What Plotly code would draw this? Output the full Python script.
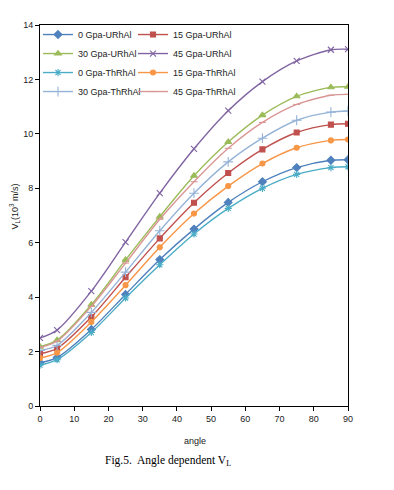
import plotly.graph_objects as go

angles = [0, 5, 15, 25, 35, 45, 55, 65, 75, 85, 90]

u0 = [1.59, 1.78, 2.81, 4.10, 5.38, 6.50, 7.48, 8.24, 8.76, 9.03, 9.05]
u15 = [1.92, 2.12, 3.27, 4.73, 6.16, 7.47, 8.56, 9.43, 10.05, 10.34, 10.37]
u30 = [2.18, 2.42, 3.72, 5.37, 6.96, 8.46, 9.70, 10.69, 11.38, 11.71, 11.73]
u45 = [2.50, 2.79, 4.22, 6.02, 7.82, 9.45, 10.85, 11.92, 12.68, 13.09, 13.11]
th0 = [1.50, 1.70, 2.70, 3.97, 5.19, 6.32, 7.26, 8.00, 8.51, 8.76, 8.79]
th15 = [1.76, 1.96, 3.09, 4.44, 5.83, 7.07, 8.08, 8.91, 9.49, 9.76, 9.79]
th30 = [2.04, 2.23, 3.44, 4.92, 6.44, 7.82, 8.97, 9.84, 10.50, 10.80, 10.84]
th45 = [2.15, 2.38, 3.66, 5.25, 6.86, 8.24, 9.47, 10.42, 11.08, 11.42, 11.45]

x_ticks = [0, 10, 20, 30, 40, 50, 60, 70, 80, 90]
y_ticks = [0, 2, 4, 6, 8, 10, 12, 14]

series = [
    ("0 Gpa-URhAl", u0, "#4F81BD", "diamond", 6, "legend"),
    ("15 Gpa-URhAl", u15, "#C0504D", "square", 5, "legend2"),
    ("30 Gpa-URhAl", u30, "#9BBB59", "triangle-up", 6, "legend"),
    ("45 Gpa-URhAl", u45, "#8064A2", "x-thin-open", 6, "legend2"),
    ("0 Gpa-ThRhAl", th0, "#4BACC6", "asterisk-open", 6, "legend"),
    ("15 Gpa-ThRhAl", th15, "#F79646", "circle", 5, "legend2"),
    ("30 Gpa-ThRhAl", th30, "#95B3D7", "cross-thin-open", 7, "legend"),
    ("45 Gpa-ThRhAl", th45, "#D99694", "line-ew-open", 5, "legend2"),
]

fig = go.Figure()
for name, vals, color, sym, size, leg in series:
    fig.add_trace(go.Scatter(
        x=angles, y=vals, name=name, mode="lines+markers",
        line=dict(color=color, width=1.4, shape="spline", smoothing=0.8),
        marker=dict(symbol=sym, size=size, color=color,
                    line=dict(color=color, width=1.1)),
        legend=leg,
    ))

# page body has an 8px margin; target plot area in window pixels: x 40..348, y 22..406
OFF = 8
W, H = 394 - 2 * OFF, 490 - 2 * OFF
L, T = 40 - OFF, 22 - OFF
pw, ph = 308, 384
R, B = W - L - pw, H - T - ph

def px_x(px):
    return (px - OFF - L) / pw

def px_y(py):
    return (T + ph - (py - OFF)) / ph

axis_font = dict(family="Liberation Sans, Arial, sans-serif", size=9, color="#222")
leg_font = dict(family="Liberation Sans, Arial, sans-serif", size=9, color="#222")

fig.update_layout(
    width=W, height=H,
    margin=dict(l=L, r=R, t=T, b=B),
    paper_bgcolor="white", plot_bgcolor="white",
    showlegend=True,
    xaxis=dict(range=[0, 90], tickvals=x_ticks, ticks="outside", ticklen=4,
               tickcolor="black", showline=True, linecolor="black", linewidth=1,
               mirror=True, showgrid=False, zeroline=False, tickfont=axis_font),
    yaxis=dict(range=[0, 14], tickvals=y_ticks, ticks="outside", ticklen=4,
               tickcolor="black", showline=True, linecolor="black", linewidth=1,
               mirror=True, showgrid=False, zeroline=False, tickfont=axis_font),
    legend=dict(x=px_x(38), y=px_y(17), xanchor="left", yanchor="top",
                bgcolor="rgba(0,0,0,0)", itemwidth=30, font=leg_font),
    legend2=dict(x=px_x(133), y=px_y(17), xanchor="left", yanchor="top",
                 bgcolor="rgba(0,0,0,0)", itemwidth=30, font=leg_font),
    annotations=[
        dict(text="angle", x=px_x(195), y=px_y(441), xref="paper", yref="paper",
             showarrow=False, xanchor="center", yanchor="middle", font=axis_font),
        dict(text="V<sub>L</sub>(10<sup>3</sup> m/s)", x=px_x(15), y=px_y(205),
             xref="paper", yref="paper", showarrow=False, textangle=-90,
             xanchor="center", yanchor="middle", font=axis_font),
        dict(text="Fig.5.  Angle dependent V<sub>L</sub>", x=px_x(103), y=px_y(461),
             xref="paper", yref="paper", showarrow=False, xanchor="left",
             yanchor="middle",
             font=dict(family="Liberation Serif, Times New Roman, serif", size=11.5, color="black")),
    ],
)

fig.write_html("out.html")
